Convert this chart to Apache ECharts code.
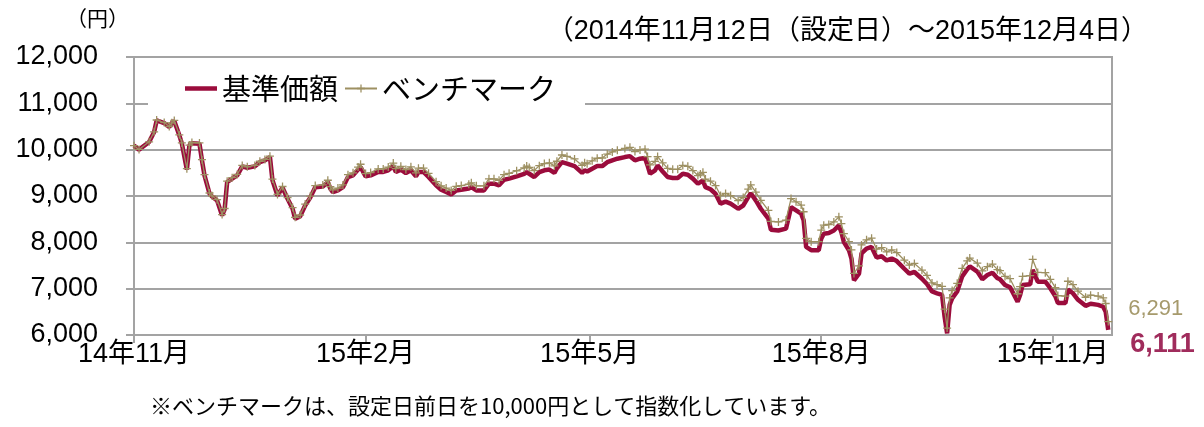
<!DOCTYPE html>
<html>
<head>
<meta charset="utf-8">
<script src="https://cdn.jsdelivr.net/npm/echarts@6/dist/echarts.min.js"></script>
<style>
  html, body { margin: 0; padding: 0; background: #fff; }
  #chart { width: 1204px; height: 427px; }
</style>
</head>
<body>
<div id="chart"></div>
<script>
// ---- data ----
// days after the setting date (2014-11-12) for each observation
const dayOffsets = [0,2,6,8,9,12,14,15,16,18,19,21,22,23,26,27,28,30,31,33,35,36,37,39,41,43,45,48,50,52,54,55,57,59,61,63,64,66,68,70,72,75,77,78,
79,81,83,85,87,89,90,92,94,97,99,101,103,104,106,108,110,112,113,115,117,120,122,124,126,128,130,133,134,136,139,141,143,145,147,149,152,155,
156,157,159,161,163,165,167,168,170,172,175,178,179,180,182,184,186,188,190,192,195,197,199,201,203,204,205,207,208,210,212,214,216,218,220,222,224,225,226,227,229,231,233,235,
237,240,242,244,245,247,249,252,253,256,259,261,263,265,266,267,269,272,273,274,276,278,280,281,282,284,285,286,288,289,291,293,295,297,299,301,303,306,308,310,313,315,
317,319,321,322,323,324,325,327,329,331,332,335,337,339,341,343,344,346,348,351,352,353,356,357,359,362,364,366,367,370,371,373,375,378,380,383,385,386,387];

const fundValues = [10090,10000,10165,10380,10630,10575,10490,10570,10620,10310,10135,9570,10090,10140,10130,9770,9445,9050,8990,8905,8580,8710,9300,9375,9445,9640,9610,9640,9730,9770,9840,9340,9010,9180,8940,8725,8510,8560,8795,8965,9190,9205,9300,9160,
9085,9120,9190,9410,9445,9570,9625,9425,9445,9520,9520,9555,9640,9520,9570,9495,9555,9425,9520,9520,9410,9230,9135,9085,9035,9120,9135,9160,9190,9120,9120,9265,9265,9230,9350,9375,9425,9480,
9515,9480,9410,9515,9555,9570,9500,9600,9730,9700,9645,9500,9555,9530,9590,9645,9645,9730,9770,9805,9840,9860,9770,9805,9820,9660,9480,9555,9660,9530,9410,9390,9390,9480,9460,9375,9265,9300,9335,9190,9145,9050,8835,8880,
8835,8725,8795,8975,9060,8905,8725,8510,8270,8255,8295,8760,8690,8620,8475,7900,7830,7830,8080,8185,8200,8255,8365,8220,8005,7830,7650,7180,7325,7760,7865,7900,7670,7700,7610,7650,7595,7430,7325,7360,7215,7100,
6940,6900,6865,6395,6035,6650,6790,6940,7265,7420,7480,7370,7205,7295,7345,7225,7205,7080,7030,6720,6865,7080,7095,7405,7150,7150,7010,6835,6690,6690,6980,6900,6760,6630,6675,6650,6610,6500,6111];

const benchValues = [10085,10005,10170,10385,10640,10585,10500,10580,10630,10320,10145,9590,10100,10155,10145,9785,9460,9065,9005,8920,8600,8730,9320,9395,9465,9660,9630,9660,9750,9790,9860,9365,9035,9205,8965,8750,8540,8590,8825,8995,9225,9240,9340,9200,
9130,9170,9240,9460,9500,9625,9685,9485,9505,9585,9585,9625,9710,9590,9640,9570,9630,9500,9600,9600,9490,9310,9220,9170,9120,9210,9225,9255,9285,9220,9220,9370,9370,9340,9460,9490,9545,9605,
9645,9615,9550,9655,9700,9715,9650,9750,9885,9855,9800,9660,9715,9695,9760,9815,9820,9905,9950,9985,10025,10050,9960,9995,10010,9850,9670,9745,9850,9715,9595,9575,9575,9660,9640,9550,9440,9475,9510,9365,9320,9225,9010,9055,
9010,8900,8970,9150,9240,9085,8905,8690,8450,8440,8480,8945,8875,8805,8660,8085,8015,8015,8265,8370,8385,8440,8550,8405,8190,8015,7835,7330,7490,7945,8055,8090,7855,7885,7795,7835,7780,7615,7510,7545,7400,7285,
7125,7085,7050,6560,6150,6800,6960,7115,7440,7600,7660,7550,7385,7475,7530,7410,7390,7265,7215,6890,7045,7265,7280,7630,7350,7345,7200,7020,6850,6840,7160,7085,6945,6815,6860,6840,6800,6680,6291];

const seriesNames = ['基準価額', 'ベンチマーク'];
const tickDays = [[2014, 10, 12], [2015, 1, 12], [2015, 4, 12], [2015, 7, 12], [2015, 10, 12]];
const tickLabels = ['14年11月', '15年2月', '15年5月', '15年8月', '15年11月'];
const yTicks = [6000, 7000, 8000, 9000, 10000, 11000, 12000];

// ---- build ----
const t0 = (d) => new Date(2014, 10, 12 + d).getTime();
const fundData = dayOffsets.map((d, i) => [t0(d), fundValues[i]]);
const benchData = dayOffsets.map((d, i) => [t0(d), benchValues[i]]);
const tickTs = tickDays.map(a => new Date(a[0], a[1], a[2]).getTime());
const tickMap = {};
tickTs.forEach((t, i) => { tickMap[t] = tickLabels[i]; });
const fmt = (v) => String(v).replace(/\B(?=(\d{3})+(?!\d))/g, ',');

const NUM = '"Liberation Sans", Arial, "Noto Sans CJK JP", sans-serif';
const CJK = '"Noto Sans CJK JP", "Liberation Sans", sans-serif';
const FUND = '#9b0c3c';
const BENCH = '#9d9062';
const plus = 'path://M4.2,0 H5.8 V4.2 H10 V5.8 H5.8 V10 H4.2 V5.8 H0 V4.2 H4.2 Z';
// thick line legend icon (corner dots keep the bounding box 32x10)
const lineIcon = 'path://M0,0 L0.01,0 L0,0.01 Z M0,2.8 H32 V7.2 H0 Z M32,10 L31.99,10 L32,9.99 Z';

const chart = echarts.init(document.getElementById('chart'), null, { renderer: 'canvas' });
chart.setOption({
  animation: false,
  backgroundColor: '#fff',
  grid: { left: 134, right: 92, top: 57, bottom: 92, show: true, borderColor: '#a3a3a3', borderWidth: 2 },
  legend: {
    left: 148, top: 68, padding: [6, 29, 6, 37],
    backgroundColor: '#fff',
    itemGap: 6, itemWidth: 32, itemHeight: 10,
    textStyle: { fontSize: 29, fontFamily: CJK, color: '#000' },
    data: [{ name: seriesNames[0], icon: lineIcon }, { name: seriesNames[1] }]
  },
  xAxis: {
    type: 'value',
    min: t0(0), max: new Date(2015, 11, 5, 12).getTime(),
    axisLine: { show: true, lineStyle: { color: '#a3a3a3', width: 2 } },
    axisTick: { show: true, customValues: tickTs, length: 8, lineStyle: { color: '#a3a3a3', width: 2 } },
    axisLabel: {
      customValues: tickTs, margin: 6, fontSize: 27, fontFamily: NUM, color: '#000',
      formatter: (v) => tickMap[v] || ''
    },
    splitLine: { show: false }
  },
  yAxis: {
    type: 'value', min: yTicks[0], max: yTicks[yTicks.length - 1], interval: 1000,
    axisLine: { show: true, lineStyle: { color: '#a3a3a3', width: 2 } },
    axisTick: { show: true, length: 8, lineStyle: { color: '#a3a3a3', width: 2 } },
    axisLabel: { margin: 36, fontSize: 27, fontFamily: NUM, color: '#000', formatter: (v) => fmt(v) },
    splitLine: { show: true, lineStyle: { color: '#a3a3a3', width: 2 } }
  },
  series: [
    {
      name: seriesNames[0], type: 'line', data: fundData,
      showSymbol: false, symbol: 'none',
      lineStyle: { color: FUND, width: 4.5 }, itemStyle: { color: FUND },
      z: 2,
      endLabel: {
        show: true, offset: [14, 15],
        formatter: (p) => fmt(p.value[1]),
        fontSize: 27, fontWeight: 'bold', fontFamily: NUM, color: '#a02c5c'
      }
    },
    {
      name: seriesNames[1], type: 'line', data: benchData,
      symbol: plus, symbolSize: 8, showAllSymbol: true,
      lineStyle: { color: BENCH, width: 1.3 }, itemStyle: { color: BENCH },
      z: 3,
      endLabel: {
        show: true, offset: [12, -13],
        formatter: (p) => fmt(p.value[1]),
        fontSize: 22, fontFamily: NUM, color: '#a69a6c'
      }
    }
  ],
  graphic: [
    { type: 'text', left: 66, top: 8, style: { text: '（円）', fontSize: 21, fontFamily: CJK, fill: '#000' } },
    { type: 'text', right: 56, top: 18, style: { text: '（2014年11月12日（設定日）～2015年12月4日）', fontSize: 27, fontFamily: NUM, fill: '#000' } },
    { type: 'text', left: 150, top: 395, style: { text: '※ベンチマークは、設定日前日を10,000円として指数化しています。', fontSize: 22, fontFamily: CJK, fill: '#000' } }
  ]
});
</script>
</body>
</html>
